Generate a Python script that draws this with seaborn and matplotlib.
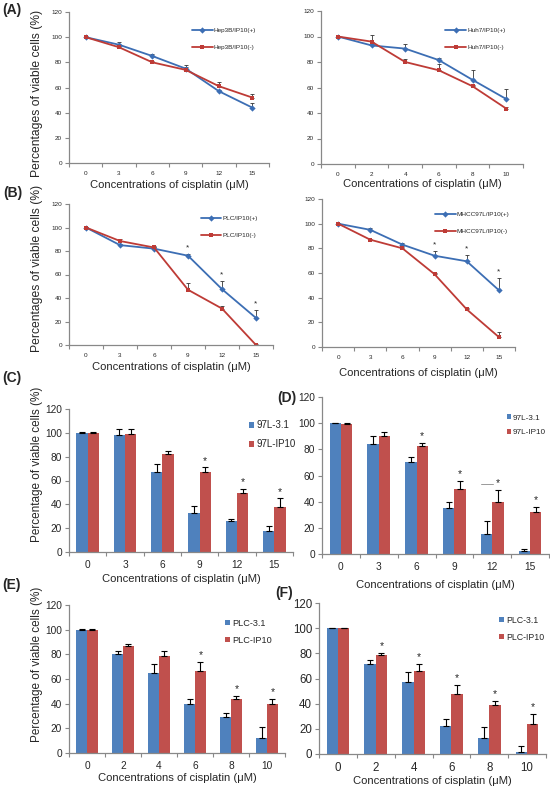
import numpy as np
import pandas as pd
import matplotlib
matplotlib.use('Agg')
import matplotlib.pyplot as plt
import seaborn as sns

# -----------------------------------------------------------
# Data
# -----------------------------------------------------------
dose_15 = ['0', '3', '6', '9', '12', '15']
dose_10 = ['0', '2', '4', '6', '8', '10']

# (A) line charts
hep3b_pos = [100, 94, 85, 75, 57, 44]
hep3b_pos_err = [0.5, 2.5, 2, 2.5, 1, 4]
hep3b_neg = [100, 92, 80, 74, 61, 52]
hep3b_neg_err = [0.5, 1, 1, 2, 3.5, 3]

huh7_pos = [100, 93, 90.5, 81.5, 66, 51]
huh7_pos_err = [0.5, 1, 3.5, 2, 8, 8]
huh7_neg = [100, 96, 80, 73.5, 61, 43.5]
huh7_neg_err = [0.5, 5, 2, 5, 1, 1.5]

# (B) line charts
plc_pos = [100, 85, 82, 76, 47.5, 23]
plc_pos_err = [0.5, 1, 1, 1.5, 7, 7]
plc_neg = [100, 88.5, 83, 47, 31, 0]
plc_neg_err = [0.5, 1.5, 1, 6, 2, 0.5]

mhcc_pos = [100, 95, 83, 74, 69.5, 46]
mhcc_pos_err = [0.5, 1.5, 1.5, 4, 5.5, 10]
mhcc_neg = [100, 87, 80, 59, 30.5, 8]
mhcc_neg_err = [0.5, 0.5, 1, 1, 1.5, 4]

# (C)/(D) bar charts, 97L cells
c_ctrl = [100, 98, 67, 33, 26, 17.5]
c_ctrl_err = [0.5, 5, 7, 5.5, 2, 4.5]
c_ip10 = [100, 99, 82, 67, 49.5, 37.5]
c_ip10_err = [0.5, 4.5, 3, 4, 3.5, 7.5]

d_ctrl = [100, 84, 70, 35, 15, 2]
d_ctrl_err = [0.5, 6, 4.5, 5, 10, 2]
d_ip10 = [99.5, 90, 82.5, 49.5, 39.5, 32]
d_ip10_err = [0.5, 3, 2, 6.5, 9.5, 4]

# (E)/(F) bar charts, PLC cells
e_ctrl = [100, 80, 65, 40, 29, 12.5]
e_ctrl_err = [0.5, 3, 7.5, 4, 3.5, 8.5]
e_ip10 = [100, 86.5, 79, 66.5, 44, 40]
e_ip10_err = [0.5, 1.5, 4, 7.5, 2.5, 3.5]

f_ctrl = [100, 71.5, 57.5, 22.5, 12.5, 1.5]
f_ctrl_err = [0.5, 3, 8, 5.5, 9, 4.5]
f_ip10 = [100, 78.5, 66, 48, 39, 23.5]
f_ip10_err = [0.5, 2, 5.5, 6.5, 3.5, 8]

BLUE = '#4F81BD'
RED = '#C0504D'
BLUE_L = '#3C6EB4'
RED_L = '#BE3B36'
GRAY = '#888888'
W, H = 550, 786

sns.set_style('white')
plt.rcParams['font.family'] = ['Liberation Sans', 'DejaVu Sans']

fig = plt.figure(figsize=(W / 100, H / 100), dpi=100)


def place(l, t, r, b):
    return fig.add_axes([l / W, 1 - b / H, (r - l) / W, (b - t) / H])


def style_axes(ax, box, labels, tick_fs, xpad, xlabel_y, xlabel_fs,
               ylabel=None, ylabel_x=None, ylabel_y=None, ylabel_fs=8.5):
    l, t, r, b = box
    n = len(labels)
    ax.set_xlim(-0.5, n - 0.5)
    ax.set_ylim(0, 120)
    ax.set_yticks(range(0, 121, 20))
    ax.set_xticks(np.arange(n + 1) - 0.5)
    ax.set_xticklabels([])
    ax.set_xticks(np.arange(n), minor=True)
    ax.set_xticklabels(labels, minor=True)
    ax.tick_params(axis='x', which='major', length=3, width=0.8,
                   direction='out', color=GRAY, bottom=True)
    ax.tick_params(axis='x', which='minor', length=0, pad=xpad,
                   labelsize=tick_fs, bottom=True)
    ax.tick_params(axis='y', length=3, width=0.8, direction='out',
                   color=GRAY, labelsize=tick_fs, pad=2, left=True)
    for s in ['top', 'right']:
        ax.spines[s].set_visible(False)
    for s in ['left', 'bottom']:
        ax.spines[s].set_color(GRAY)
        ax.spines[s].set_linewidth(0.9)
    ax.grid(False)
    ax.set_xlabel('Concentrations of cisplatin (\u03bcM)', fontsize=xlabel_fs)
    ax.xaxis.set_label_coords(0.5, -(xlabel_y - b) / (b - t))
    ax.xaxis.label.set_va('center')
    if ylabel:
        ax.set_ylabel(ylabel, fontsize=ylabel_fs)
        ax.yaxis.set_label_coords(-(l - ylabel_x) / (r - l),
                                  (b - ylabel_y) / (b - t))
        ax.yaxis.label.set_va('center')
    else:
        ax.set_ylabel('')


def line_panel(box, doses, pos, pos_err, neg, neg_err, names, stars,
               leg_xy, xlabel_y, ylabel_x=None, ylabel_y=None):
    ax = place(*box)
    n = len(doses)
    df = pd.DataFrame({
        'idx': list(range(n)) * 2,
        'val': pos + neg,
        'grp': [names[0]] * n + [names[1]] * n,
    })
    sns.lineplot(data=df, x='idx', y='val', hue='grp', style='grp',
                 markers=['D', 's'], dashes=False, palette=[BLUE_L, RED_L],
                 linewidth=1.3, markersize=3.2, markeredgewidth=0, ax=ax)
    idx = np.arange(n)
    for vals, errs in [(pos, pos_err), (neg, neg_err)]:
        ax.errorbar(idx, vals, yerr=[np.zeros(n), errs], fmt='none',
                    ecolor='#333333', elinewidth=0.6, capsize=1.5,
                    capthick=0.6, zorder=1)
    for i in stars:
        ax.text(i, pos[i] + pos_err[i] + 2, '*', ha='center', va='bottom',
                fontsize=6)
    handles, labels = ax.get_legend_handles_labels()
    ax.legend(handles, labels, loc='center left', bbox_to_anchor=leg_xy,
              frameon=False, fontsize=4.6, handlelength=3.2,
              handletextpad=0.2, labelspacing=1.8, borderpad=0)
    yl = 'Percentages of viable cells (%)' if ylabel_x else None
    style_axes(ax, box, doses, 4.6, 6, xlabel_y, 8.1, yl, ylabel_x,
               ylabel_y, 8.7)
    return ax


def bar_panel(box, doses, ctrl, ctrl_err, ip10, ip10_err, names, stars,
              leg_xy, tick_fs, xpad, xlabel_y, leg_fs, ylabel_x=None,
              ylabel_y=None, extra_line=None):
    ax = place(*box)
    n = len(doses)
    df = pd.DataFrame({
        'dose': doses * 2,
        'val': ctrl + ip10,
        'grp': [names[0]] * n + [names[1]] * n,
    })
    sns.barplot(data=df, x='dose', y='val', hue='grp', order=doses,
                palette=[BLUE, RED], width=0.6, saturation=1,
                errorbar=None, linewidth=0, ax=ax)
    for cont, vals, errs in zip(ax.containers, [ctrl, ip10],
                                [ctrl_err, ip10_err]):
        xs = [p.get_x() + p.get_width() / 2 for p in cont.patches]
        ax.errorbar(xs, vals, yerr=[np.zeros(n), errs], fmt='none',
                    ecolor='black', elinewidth=0.8, capsize=2,
                    capthick=0.8)
        if cont is ax.containers[1]:
            for i in stars:
                ax.text(xs[i], vals[i] + errs[i] + 1.5, '*', ha='center',
                        va='bottom', fontsize=7.5)
            if extra_line is not None:
                i = extra_line
                y = vals[i] + errs[i] + 4.5
                ax.plot([xs[i] - 0.45, xs[i] - 0.12], [y, y],
                        color='#999999', lw=0.7)
    handles, labels = ax.get_legend_handles_labels()
    ax.legend(handles, labels, loc='center left', bbox_to_anchor=leg_xy,
              frameon=False, fontsize=leg_fs, handlelength=0.55,
              handleheight=0.55, handletextpad=0.25, labelspacing=0.9,
              borderpad=0)
    yl = 'Percentage of viable cells (%)' if ylabel_x else None
    style_axes(ax, box, doses, tick_fs, xpad, xlabel_y, 8.1, yl,
               ylabel_x, ylabel_y, 8.5)
    return ax


# -----------------------------------------------------------
# (A) & (B) line charts
# -----------------------------------------------------------
line_panel((69, 12, 269, 163), dose_15, hep3b_pos, hep3b_pos_err,
           hep3b_neg, hep3b_neg_err, ['Hep3B/IP10(+)', 'Hep3B/IP10(-)'],
           [], (0.6, 0.82), 185, ylabel_x=37, ylabel_y=93)
line_panel((321, 11, 523, 164), dose_10, huh7_pos, huh7_pos_err,
           huh7_neg, huh7_neg_err, ['Huh7/IP10(+)', 'Huh7/IP10(-)'],
           [], (0.6, 0.82), 184)
line_panel((69, 204, 273, 345), dose_15, plc_pos, plc_pos_err,
           plc_neg, plc_neg_err, ['PLC/IP10(+)', 'PLC/IP10(-)'],
           [3, 4, 5], (0.63, 0.84), 367, ylabel_x=37, ylabel_y=268)
line_panel((322, 199, 515, 347), dose_15, mhcc_pos, mhcc_pos_err,
           mhcc_neg, mhcc_neg_err, ['MHCC97L/IP10(+)', 'MHCC97L/IP10(-)'],
           [3, 4, 5], (0.57, 0.84), 373)

# -----------------------------------------------------------
# (C)-(F) bar charts
# -----------------------------------------------------------
bar_panel((69, 409, 293, 552), dose_15, c_ctrl, c_ctrl_err, c_ip10,
          c_ip10_err, ['97L-3.1', '97L-IP10'], [3, 4, 5], (0.78, 0.82),
          7.3, 6, 579, 7.0, ylabel_x=37, ylabel_y=464)
bar_panel((322, 397, 549, 554), dose_15, d_ctrl, d_ctrl_err, d_ip10,
          d_ip10_err, ['97L-3.1', '97L-IP10'], [2, 3, 4, 5], (0.795, 0.82),
          7.3, 6, 585, 5.9, extra_line=4)
bar_panel((69, 605, 285, 753), dose_10, e_ctrl, e_ctrl_err, e_ip10,
          e_ip10_err, ['PLC-3.1', 'PLC-IP10'], [3, 4, 5], (0.7, 0.82),
          7.3, 6, 778, 6.6, ylabel_x=37, ylabel_y=664)
bar_panel((319, 603, 546, 754), dose_10, f_ctrl, f_ctrl_err, f_ip10,
          f_ip10_err, ['PLC-3.1', 'PLC-IP10'], [1, 2, 3, 4, 5],
          (0.775, 0.83), 8.3, 6, 781, 6.3)

# panel letters
for txt, x, y in [('(A)', 2, 10), ('(B)', 3, 193), ('(C)', 2, 378),
                  ('(D)', 277, 398), ('(E)', 2, 585), ('(F)', 275, 593)]:
    fig.text(x / W, 1 - y / H, txt, fontsize=10, fontweight='bold',
             va='center', ha='left')

plt.savefig('out.png', dpi=100)
